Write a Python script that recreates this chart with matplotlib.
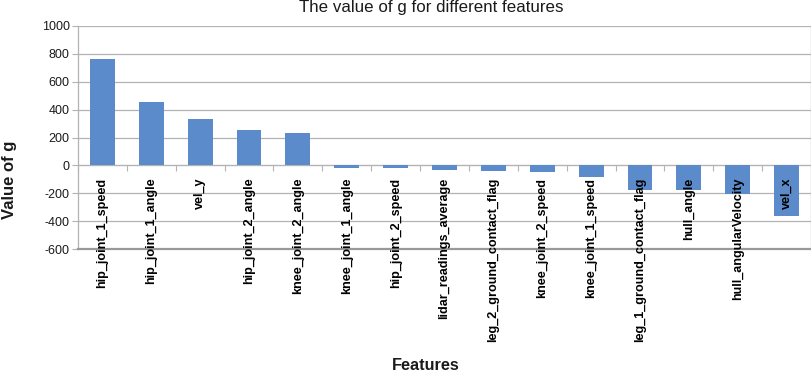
import matplotlib
matplotlib.use("Agg")
import matplotlib.pyplot as plt
import numpy as np

plt.rcParams['font.family'] = ['Liberation Sans', 'DejaVu Sans']

categories = ["hip_joint_1_speed", "hip_joint_1_angle", "vel_y", "hip_joint_2_angle",
              "knee_joint_2_angle", "knee_joint_1_angle", "hip_joint_2_speed",
              "lidar_readings_average", "leg_2_ground_contact_flag", "knee_joint_2_speed",
              "knee_joint_1_speed", "leg_1_ground_contact_flag", "hull_angle",
              "hull_angularVelocity", "vel_x"]
values = [764, 457, 336, 257, 229, -21, -20, -36, -43, -50, -86, -179, -179, -205, -362]
yticks = [-600, -400, -200, 0, 200, 400, 600, 800, 1000]

W, H = 812, 372
fig = plt.figure(figsize=(W / 100, H / 100), dpi=100)
ax = fig.add_axes([78 / W, (H - 249) / H, (811 - 78) / W, (249 - 26) / H])

x = np.arange(len(categories))
ax.bar(x, values, width=0.51, color='#5c8bcb', zorder=3)

ax.set_xlim(-0.5, len(categories) - 0.5)
ax.set_ylim(-600, 1000)
ax.set_yticks(yticks)
ax.set_yticklabels([str(v) for v in yticks], fontsize=9, color='#1a1a1a')
ax.tick_params(axis='y', length=4, width=0.8, color='#b3b3b3', pad=2)
ax.yaxis.grid(True, color='#b3b3b3', linewidth=0.9)
ax.yaxis.set_zorder(0.5)
ax.xaxis.set_zorder(5)

# Category axis crosses at 0
ax.spines['bottom'].set_position(('data', 0))
ax.spines['bottom'].set_color('#b3b3b3')
ax.spines['bottom'].set_zorder(2)
ax.set_xticks(x)
ax.set_xticklabels(categories, rotation=90, fontsize=9.1, fontweight='bold', va='top', ha='center')
ax.tick_params(axis='x', which='major', length=0, pad=9)
ax.set_xticks(np.arange(len(categories) + 1) - 0.5, minor=True)
ax.tick_params(axis='x', which='minor', length=4, width=0.8, color='#b3b3b3')

for s in ['left', 'right', 'top']:
    ax.spines[s].set_color('#b3b3b3')
    ax.spines[s].set_linewidth(0.9)
ax.spines['top'].set_visible(False)
ax.axhline(-600, color='#999999', linewidth=1.6, zorder=4, clip_on=False)

fig.text(431 / W, 1 - 12 / H, "The value of g for different features", ha='center', va='baseline',
         fontsize=12.2, color='#1a1a1a')
fig.text(9.5 / W, 1 - 180 / H, "Value of g", rotation=90, ha='center', va='center',
         fontsize=12, fontweight='bold', color='#1a1a1a')
fig.text(426 / W, 1.5 / H, "Features", ha='center', va='baseline',
         fontsize=11.7, fontweight='bold', color='#1a1a1a')

fig.savefig("out.png", dpi=100)
